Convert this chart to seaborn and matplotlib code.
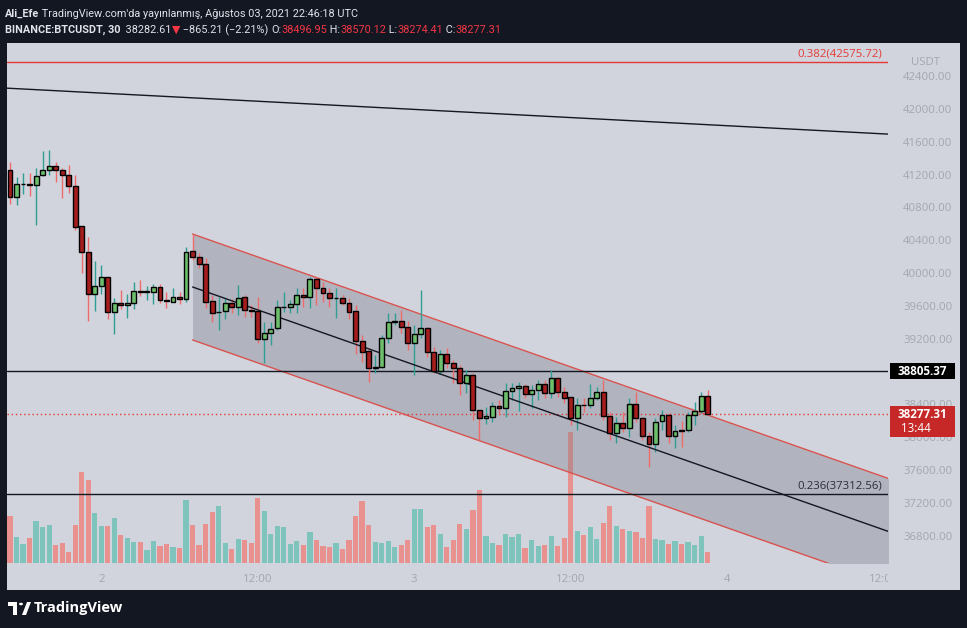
import matplotlib
matplotlib.use("Agg")
import matplotlib.pyplot as plt
from matplotlib.patches import Rectangle, Circle, Polygon
from matplotlib.transforms import Bbox, TransformedBbox, blended_transform_factory
import seaborn as sns
import numpy as np
import pandas as pd

# BINANCE:BTCUSDT 30m candles, 2021-08-01 17:00 -> 2021-08-03 22:30 UTC
opens = [41255, 40930, 41079, 41085, 41069, 41194, 41252, 41308, 41252, 41191,
         41057, 40570, 40260, 39741, 39846, 39948, 39522, 39632, 39607, 39632,
         39778, 39773, 39773, 39827, 39668, 39651, 39712, 39684, 40269, 40192,
         40110, 39660, 39522, 39538, 39632, 39590, 39705, 39546, 39538, 39193,
         39266, 39327, 39583, 39590, 39620, 39733, 39705, 39928, 39814, 39754,
         39693, 39693, 39632, 39538, 39176, 39051, 38847, 38852, 39205, 39408,
         39416, 39347, 39145, 39254, 39327, 39035, 38807, 39011, 38901, 38847,
         38657, 38758, 38332, 38231, 38251, 38385, 38353, 38564, 38596, 38628,
         38523, 38576, 38645, 38543, 38718, 38555, 38487, 38231, 38393, 38393,
         38475, 38548, 38259, 38056, 38170, 38109, 38402, 38238, 38015, 37914,
         38198, 38271, 38015, 38085, 38085, 38271, 38324, 38496.95]
highs = [41349, 41174, 41222, 41215, 41276, 41490, 41499, 41356, 41276, 41316,
         41194, 40573, 40443, 40147, 40098, 39952, 39693, 39794, 39745, 39888,
         39916, 39843, 39863, 39867, 39773, 39814, 39773, 40321, 40475, 40241,
         40180, 39733, 39712, 39693, 39684, 39855, 39733, 39611, 39712, 39408,
         39408, 39672, 39773, 39672, 39814, 39814, 39956, 39956, 39895, 39814,
         39814, 39733, 39693, 39611, 39246, 39084, 39002, 39246, 39510, 39510,
         39550, 39416, 39367, 39794, 39347, 39103, 39063, 39091, 38941, 38880,
         38819, 38779, 38332, 38372, 38433, 38454, 38657, 38657, 38677, 38645,
         38637, 38698, 38698, 38819, 38738, 38616, 38490, 38475, 38475, 38645,
         38616, 38698, 38311, 38251, 38311, 38475, 38555, 38251, 38068, 38231,
         38332, 38292, 38149, 38198, 38311, 38426, 38555, 38570.12]
lows = [40838, 40829, 40963, 40942, 40585, 41182, 41194, 41106, 40918, 40972,
        40525, 39997, 39420, 39538, 39745, 39441, 39254, 39562, 39449, 39562,
        39724, 39672, 39620, 39639, 39578, 39644, 39623, 39651, 40159, 40065,
        39571, 39408, 39307, 39441, 39510, 39489, 39469, 39469, 39145, 38901,
        39124, 39307, 39529, 39510, 39510, 39590, 39571, 39611, 39651, 39590,
        39449, 39611, 39441, 39011, 38920, 38677, 38779, 38840, 39145, 39367,
        39266, 39063, 38758, 39205, 38981, 38779, 38767, 38840, 38657, 38515,
        38536, 38210, 37967, 38158, 38190, 38271, 38251, 38454, 38320, 38475,
        38357, 38454, 38475, 38475, 38494, 38414, 38150, 38089, 38311, 38353,
        38454, 38210, 37967, 37927, 38068, 38007, 38190, 37967, 37641, 37824,
        38089, 37927, 37866, 37885, 38068, 38149, 38292, 38274.41]
closes = [40930, 41081, 41085, 41076, 41186, 41252, 41308, 41252, 41191, 41057,
          40565, 40260, 39741, 39839, 39948, 39522, 39632, 39607, 39632, 39782,
          39773, 39778, 39827, 39668, 39663, 39712, 39684, 40260, 40192, 40110,
          39651, 39517, 39529, 39632, 39590, 39693, 39546, 39538, 39193, 39266,
          39315, 39583, 39587, 39623, 39733, 39705, 39928, 39814, 39754, 39693,
          39696, 39632, 39529, 39176, 39042, 38847, 38860, 39205, 39400, 39413,
          39347, 39145, 39254, 39327, 39035, 38807, 39011, 38901, 38847, 38657,
          38758, 38332, 38231, 38259, 38385, 38353, 38564, 38596, 38628, 38523,
          38576, 38645, 38543, 38718, 38555, 38482, 38231, 38393, 38389, 38475,
          38548, 38259, 38056, 38170, 38109, 38402, 38238, 38015, 37914, 38190,
          38271, 38015, 38080, 38080, 38271, 38324, 38503, 38277.31]
volumes = [2335, 1285, 935, 1235, 2085, 1785, 1885, 885, 985, 535,
           1885, 4535, 4135, 2485, 1835, 1835, 2235, 1385, 1235, 1035,
           1035, 635, 1085, 835, 935, 785, 735, 3135, 1885, 885,
           1935, 2535, 2835, 985, 685, 1185, 1135, 985, 3235, 2585,
           1435, 1835, 1785, 935, 1085, 885, 1535, 1135, 835, 785,
           985, 685, 1135, 2335, 3085, 1885, 1035, 985, 1085, 785,
           885, 1135, 2685, 2685, 1785, 1885, 1435, 785, 1135, 1935,
           1685, 2635, 3635, 1335, 985, 885, 1435, 1285, 1435, 735,
           1135, 835, 885, 1335, 835, 1235, 6535, 1585, 1385, 1785,
           1185, 1985, 2835, 1835, 1685, 1585, 1535, 1235, 2835, 1185,
           1135, 935, 1085, 935, 1035, 885, 1335, 535]

price_ticks = [36800, 37200, 37600, 38000, 38400, 38800, 39200, 39600,
               40000, 40400, 40800, 41200, 41600, 42000, 42400]

# drawings on the chart
fib_382 = 42575.72
fib_236 = 37312.56
hline_level = 38805.37
last_price = 38277.31
trend_bars = [0, 134]
trend_prices = [42250, 41695]
channel_bars = [28, 140]
channel_upper = [40475, 37350]
channel_width = 1290

BG = '#131722'
PANE = '#d1d4dc'
UP_BODY = '#6dbf6d'
DN_BODY = '#a51d1d'
UP_WICK = '#2f9e94'
DN_WICK = '#ef6a6a'
VOL_UP = '#7fc4bc'
VOL_DN = '#e8918f'
AX_TXT = '#a3a6af'
RED = '#f23645'
W, H = 967, 628

sns.set_theme(style='white')
FONT = ['Open Sans', 'DejaVu Sans']
HEAD_FONT = ['Roboto', 'DejaVu Sans']
plt.rcParams['font.family'] = FONT

times = pd.date_range('2021-08-01 17:00', periods=len(closes), freq='30min')
idx = np.arange(len(closes))
o, h, l, c = (np.array(a, dtype=float) for a in (opens, highs, lows, closes))
up = c >= o

fig = plt.figure(figsize=(W / 100, H / 100), dpi=100, facecolor=BG)
fig.patches.append(Rectangle((7 / W, 1 - 590 / H), 953 / W, 547 / H,
                             transform=fig.transFigure, fc=PANE, ec='none', zorder=0))

ax = fig.add_axes([7 / W, 1 - 563 / H, 881 / W, 520 / H])
axv = ax.twinx()
axv.set_zorder(1)
ax.set_zorder(2)
ax.patch.set_visible(False)
axv.patch.set_visible(False)

# volume
vol_df = pd.DataFrame({'i': idx, 'vol': volumes, 'dir': np.where(up, 'up', 'down')})
sns.barplot(data=vol_df, x='i', y='vol', hue='dir', palette={'up': VOL_UP, 'down': VOL_DN},
            native_scale=True, width=0.8, saturation=1, errorbar=None, legend=False,
            dodge=False, linewidth=0, ax=axv)
axv.set_ylim(0, 26000)
axv.set_yticks([])
axv.set_ylabel('')
axv.set_xlabel('')

# channel
cb = np.array(channel_bars, dtype=float)
cu = np.array(channel_upper, dtype=float)
cl = cu - channel_width
cm = cu - channel_width / 2
ax.fill_between(cb, cl, cu, color='#787b86', alpha=0.35, lw=0, zorder=1)
ax.plot(cb, cu, color='#d9534f', lw=1, zorder=2)
ax.plot(cb, cl, color='#d9534f', lw=1, zorder=2)
ax.plot(cb, cm, color='#131722', lw=1, zorder=4)

# horizontal levels and trend line
ax.axhline(fib_382, color='#e53935', lw=1, zorder=2)
ax.axhline(fib_236, color='#131722', lw=1, zorder=2)
ax.axhline(hline_level, color='#131722', lw=1, zorder=2)
ax.axhline(last_price, color='#e53935', lw=1, ls=(0, (1, 2)), zorder=2)
ax.axline((trend_bars[0], trend_prices[0]), (trend_bars[1], trend_prices[1]),
          color='#131722', lw=1, zorder=2)

# candles
ax.vlines(idx[up], l[up], h[up], color=UP_WICK, lw=1, zorder=3)
ax.vlines(idx[~up], l[~up], h[~up], color=DN_WICK, lw=1, zorder=3)
body_lo = np.minimum(o, c)
body_h = np.maximum(np.abs(c - o), 8)
ax.bar(idx, body_h, bottom=body_lo, width=0.75, color=np.where(up, UP_BODY, DN_BODY),
       edgecolor='black', linewidth=1, zorder=5)

ax.set_xlim(-0.46, 134.66)
ax.set_ylim(36468, 42802)
for a in (ax, axv):
    for s in a.spines.values():
        s.set_visible(False)
    a.grid(False)

# price scale (the 38800 label sits under the level badge, so it is left blank)
ax.yaxis.tick_right()
ax.set_yticks(price_ticks)
ax.set_yticklabels(['' if p == 38800 else f'{p:.2f}' for p in price_ticks])
ax.tick_params(axis='y', length=0, pad=11, labelsize=8.2, labelcolor=AX_TXT)

# time scale
ext = pd.date_range(times[0], periods=140, freq='30min')
tpos, tlab = [], []
for k, t in enumerate(ext):
    if t.minute == 0 and t.hour in (0, 12) and k <= 134:
        tpos.append(k)
        tlab.append(str(t.day) if t.hour == 0 else '12:00')
ax.set_xticks(tpos)
ax.set_xticklabels(tlab)
ax.tick_params(axis='x', length=0, pad=8, labelsize=8.2, labelcolor=AX_TXT)
clip = TransformedBbox(Bbox.from_extents(7 / W, 1 - 590 / H, 888 / W, 1 - 563 / H), fig.transFigure)
for lb in ax.get_xticklabels():
    lb.set_clip_box(clip)
    lb.set_clip_on(True)

bt = blended_transform_factory(ax.transAxes, ax.transData)
ax.text(0.993, fib_382 + 25, f'0.382({fib_382:.2f})', transform=bt, ha='right', va='bottom',
        color='#e53935', fontsize=8.2, zorder=6)
ax.text(0.993, fib_236 + 25, f'0.236({fib_236:.2f})', transform=bt, ha='right', va='bottom',
        color='#2a2e39', fontsize=8.2, zorder=6)
ax.text(1.042, 42570, 'USDT', transform=bt, ha='center', va='center', color=AX_TXT,
        fontsize=8.2, clip_on=False)

# price labels on the scale
ppx = 12.18
ax.add_patch(Rectangle((1 + 2 / 881, hline_level - 8 * ppx), 65 / 881, 16 * ppx, transform=bt,
                       fc='black', ec='none', clip_on=False, zorder=7))
ax.text(1 + 34 / 881, hline_level, f'{hline_level:.2f}', transform=bt, ha='center', va='center',
        color='white', fontsize=8.4, fontweight='bold', clip_on=False, zorder=8)
ax.add_patch(Rectangle((1 + 2 / 881, last_price - 23 * ppx), 65 / 881, 31 * ppx, transform=bt,
                       fc='#c62828', ec='none', clip_on=False, zorder=7))
ax.text(1 + 34 / 881, last_price, f'{last_price:.2f}', transform=bt, ha='center', va='center',
        color='white', fontsize=8.4, fontweight='bold', clip_on=False, zorder=8)
ax.text(1 + 13 / 881, last_price - 14 * ppx, '13:44', transform=bt, ha='left', va='center',
        color='white', fontsize=8.4, clip_on=False, zorder=8)

# header
renderer = fig.canvas.get_renderer()


def put_row(y_px, parts, x0=5):
    x = x0
    for s, col, bold in parts:
        t = fig.text(x / W, 1 - y_px / H, s, color=col, fontsize=7.8,
                     fontweight='bold' if bold else 'normal', ha='left', va='center',
                     family=HEAD_FONT)
        x = t.get_window_extent(renderer=renderer).x1


TXT = '#e1e3ea'
put_row(14, [('Ali_Efe', TXT, True),
             (" TradingView.com'da yayınlanmış, Ağustos 03, 2021 22:46:18 UTC", TXT, False)])
put_row(30, [('BINANCE:BTCUSDT, 30', TXT, True), ('  38282.61', TXT, False), ('▼', RED, False),
             (' −865.21 (−2.21%) ', TXT, False), ('O:', TXT, False), ('38496.95', RED, False),
             (' H:', TXT, False), ('38570.12', RED, False), (' L:', TXT, False),
             ('38274.41', RED, False), (' C:', TXT, False), ('38277.31', RED, False)])

# TradingView logo
fig.patches.append(Polygon([[8 / W, 1 - 602 / H], [17 / W, 1 - 602 / H], [17 / W, 1 - 615 / H],
                            [13 / W, 1 - 615 / H], [13 / W, 1 - 606 / H], [8 / W, 1 - 606 / H]],
                           closed=True, transform=fig.transFigure, fc='white', ec='none'))
fig.patches.append(Circle((21 / W, 1 - 604 / H), 2 / W, transform=fig.transFigure, fc='white', ec='none'))
fig.patches.append(Polygon([[22 / W, 1 - 615 / H], [27 / W, 1 - 602 / H], [31 / W, 1 - 602 / H],
                            [26 / W, 1 - 615 / H]], closed=True, transform=fig.transFigure,
                           fc='white', ec='none'))
fig.text(34 / W, 1 - 608 / H, 'TradingView', color='white', fontsize=10.5, fontweight='bold',
         ha='left', va='center', family=FONT)

fig.savefig('out.png', dpi=100, facecolor=BG)
